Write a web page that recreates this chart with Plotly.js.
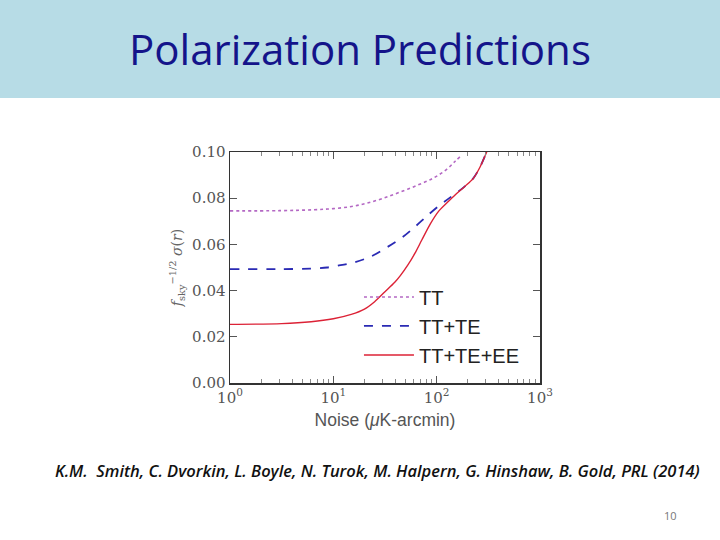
<!DOCTYPE html>
<html>
<head>
<meta charset="utf-8">
<script src="https://cdn.plot.ly/plotly-3.0.1.min.js"></script>
<style>html,body{margin:0;padding:0;background:#fff;}#chart{width:720px;height:540px;}</style>
</head>
<body>
<div id="chart"></div>
<script>
// Data
const ttNoise = [1, 3, 6.5, 10, 15, 21, 30, 44, 65, 93, 125, 151, 174];
const ttSigma = [0.0745, 0.0746, 0.0750, 0.0755, 0.0764, 0.0778, 0.0799, 0.0826, 0.0856, 0.0887, 0.0925, 0.0960, 0.0985];

const tteNoise = [1, 3, 6, 8.7, 11.1, 15.6, 23, 32.9, 46, 62, 81, 108, 150, 186, 226, 263, 305];
const tteSigma = [0.0493, 0.0493, 0.0495, 0.0500, 0.0508, 0.0521, 0.0547, 0.0587, 0.0629, 0.0677, 0.0724, 0.0771, 0.0818, 0.0850, 0.0886, 0.0935, 0.1001];

const allNoise = [1, 3.16, 6.1, 10, 14.9, 20, 25.1, 31.6, 39.3, 44.7, 52.5, 61.7, 71.8, 87.1, 103.8, 125.9, 150.7, 186.2, 226.5, 263, 305.5];
const allSigma = [0.0254, 0.0257, 0.0265, 0.0278, 0.0297, 0.0320, 0.0352, 0.0395, 0.0436, 0.0466, 0.0510, 0.0562, 0.0619, 0.0690, 0.0742, 0.0780, 0.0814, 0.0850, 0.0886, 0.0935, 0.1001];

const seriesNames = ["TT", "TT+TE", "TT+TE+EE"];
const xTickVals = [1, 10, 100, 1000];
const xTickText = ["10<sup>0</sup>", "10<sup>1</sup>", "10<sup>2</sup>", "10<sup>3</sup>"];
const xMinorVals = [2,3,4,5,6,7,8,9,20,30,40,50,60,70,80,90,200,300,400,500,600,700,800,900];
const yTickVals = [0, 0.02, 0.04, 0.06, 0.08, 0.10];

const traces = [
  {x: ttNoise, y: ttSigma, name: seriesNames[0], mode: "lines", line: {shape: "spline", smoothing: 1, color: "#b468c4", width: 1.6, dash: "dot"}},
  {x: tteNoise, y: tteSigma, name: seriesNames[1], mode: "lines", line: {shape: "spline", smoothing: 0.8, color: "#2a2ab4", width: 1.8, dash: "dash"}},
  {x: allNoise, y: allSigma, name: seriesNames[2], mode: "lines", line: {shape: "spline", smoothing: 0.8, color: "#dc2236", width: 1.4}}
];

const serif = "DejaVu Serif, Liberation Serif, serif";
const sans = "Liberation Sans, Arial, sans-serif";

const layout = {
  width: 720, height: 540,
  margin: {l: 230, r: 180, t: 152, b: 157},
  paper_bgcolor: "#ffffff", plot_bgcolor: "#ffffff",
  showlegend: true,
  title: {
    text: "Polarization Predictions",
    font: {family: "Open Sans, sans-serif", size: 42, color: "#14148a"},
    x: 0.5, xref: "container", xanchor: "center",
    y: 1 - 50/540, yref: "container", yanchor: "middle"
  },
  legend: {
    x: 0.416, y: 0.457, xanchor: "left", yanchor: "top",
    itemwidth: 50,
    bgcolor: "rgba(0,0,0,0)", borderwidth: 0,
    font: {family: sans, size: 20, color: "#222"}
  },
  xaxis: {
    type: "log", range: [0, 3],
    tickmode: "array", tickvals: xTickVals, ticktext: xTickText,
    ticks: "inside", ticklen: 7, tickwidth: 1, tickcolor: "#555",
    minor: {tickmode: "array", tickvals: xMinorVals, ticks: "inside", ticklen: 4, tickcolor: "#888"},
    showline: true, linecolor: "#333", linewidth: 1.5, mirror: "ticks",
    showgrid: false, zeroline: false,
    tickfont: {family: serif, size: 15, color: "#555"},
    title: {text: "Noise (<i>μ</i>K-arcmin)", font: {family: sans, size: 17.5, color: "#555"}, standoff: 8}
  },
  yaxis: {
    range: [0, 0.10],
    tickmode: "array", tickvals: yTickVals, tickformat: ".2f",
    ticks: "inside", ticklen: 7, tickwidth: 1, tickcolor: "#555",
    showline: true, linecolor: "#333", linewidth: 1.5, mirror: "ticks",
    showgrid: false, zeroline: false,
    tickfont: {family: serif, size: 15, color: "#555"},
    title: {text: "<i>f</i><sub>sky</sub><sup>−1/2</sup> <i>σ</i>(<i>r</i>)", font: {family: serif, size: 14, color: "#666"}, standoff: 6}
  },
  shapes: [
    {type: "rect", xref: "paper", yref: "paper", x0: -230/310, x1: 1 + 180/310, y0: 1 + 54/231, y1: 1 + 152/231,
     fillcolor: "#b7dce6", line: {width: 0}, layer: "below"}
  ],
  annotations: [
    {xref: "paper", yref: "paper", x: (377 - 230)/310, y: -(470 - 383)/231, xanchor: "center", yanchor: "middle", showarrow: false,
     text: "<i>K.M.  Smith, C. Dvorkin, L. Boyle, N. Turok, M. Halpern, G. Hinshaw, B. Gold, PRL (2014)</i>",
     font: {family: "Open Sans, sans-serif", size: 16.5, color: "#111", weight: 600}},
    {xref: "paper", yref: "paper", x: (670 - 230)/310, y: -(515 - 383)/231, xanchor: "center", yanchor: "middle", showarrow: false,
     text: "10", font: {family: "Open Sans, sans-serif", size: 11, color: "#777"}}
  ]
};

Plotly.newPlot("chart", traces, layout, {displayModeBar: false, staticPlot: true});
</script>
</body>
</html>
